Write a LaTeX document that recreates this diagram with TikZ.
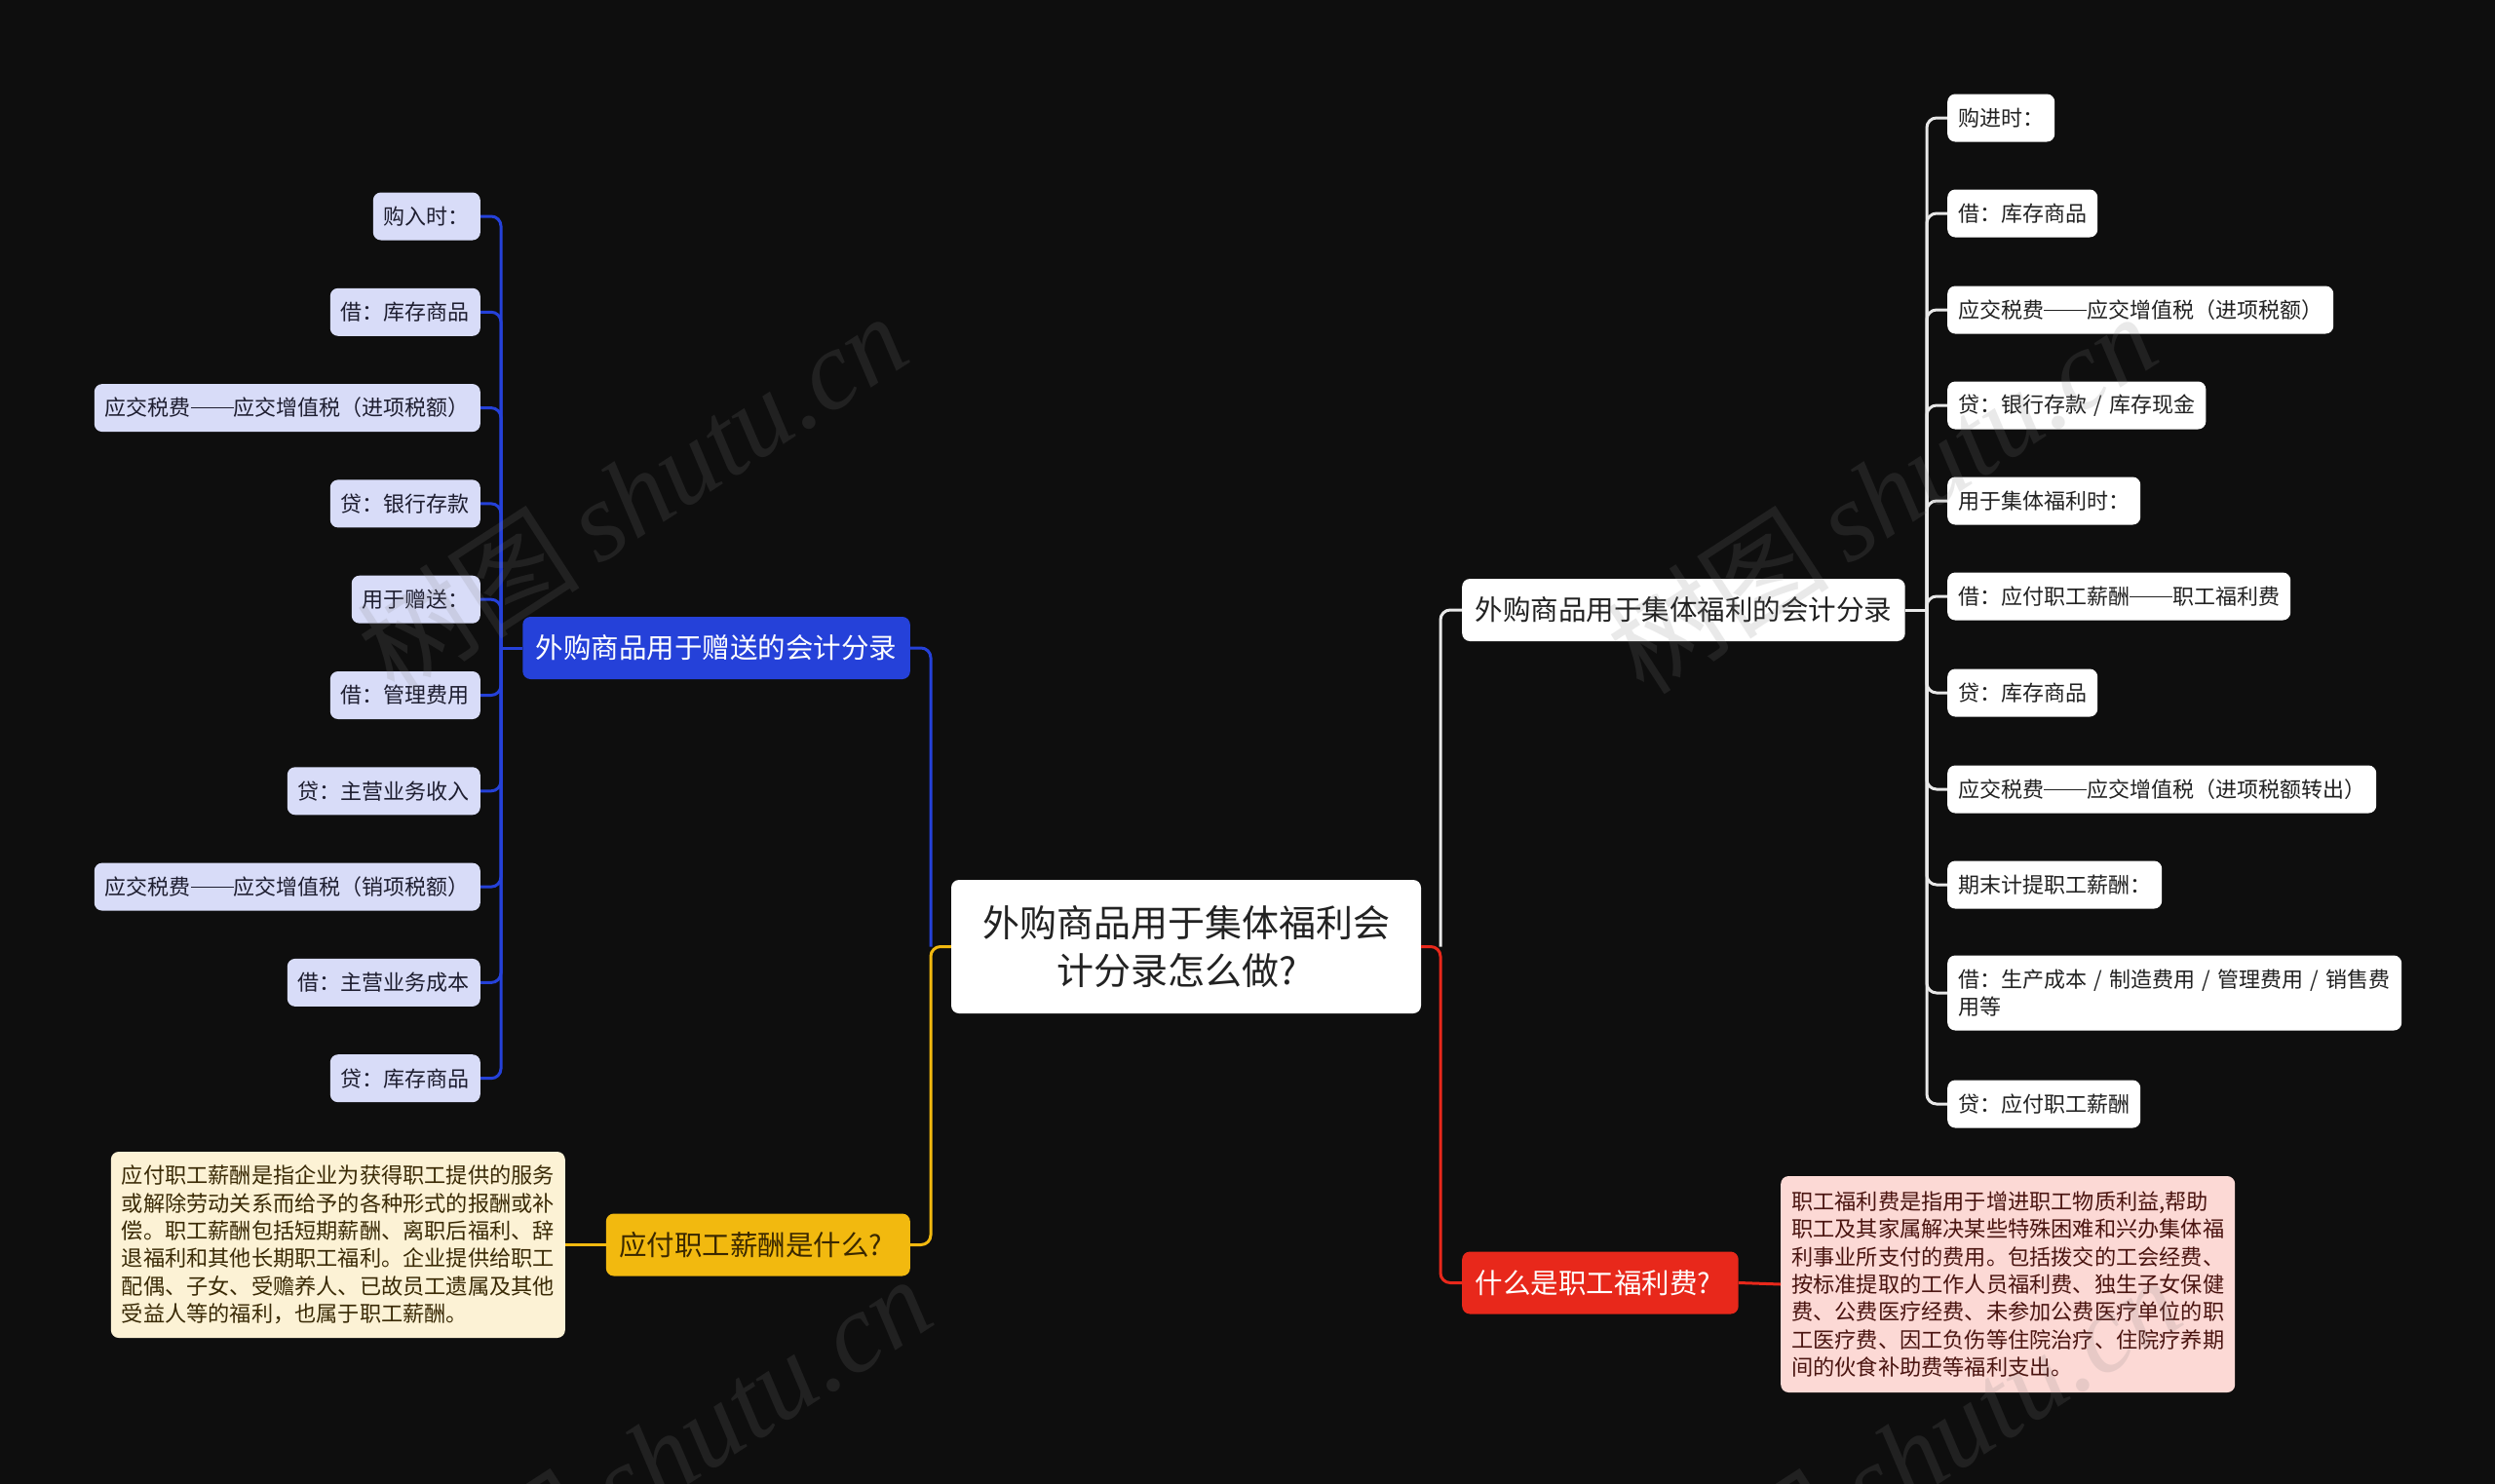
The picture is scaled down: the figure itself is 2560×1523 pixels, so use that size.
\documentclass[tikz,border=0pt]{standalone}
\usepackage{fontspec}
\setmainfont{Noto Sans CJK SC}
\newfontfamily\wmfont{Liberation Serif}
\definecolor{bg}{HTML}{0E0E0E}
\definecolor{blueM}{HTML}{2541D9}
\definecolor{lavB}{HTML}{D8DCF8}
\definecolor{txtB}{HTML}{1E1E30}
\definecolor{yelM}{HTML}{F2B90F}
\definecolor{yelTxt}{HTML}{3A2800}
\definecolor{cream}{HTML}{FCF2D5}
\definecolor{noteTxt}{HTML}{3A2A05}
\definecolor{redM}{HTML}{E8281B}
\definecolor{pinkB}{HTML}{FCD9D5}
\definecolor{pinkTxt}{HTML}{4A1410}
\definecolor{wlineC}{HTML}{E8E8E8}
\definecolor{txtW}{HTML}{222222}
\definecolor{wmC}{HTML}{808080}
\newcommand\emd{\rule[0.34em]{2em}{0.06em}}
\newcommand\slsh{\hspace{0.33em}/\hspace{0.33em}}
\newcommand\qm{\makebox[1em][l]{?}}
\begin{document}
\begin{tikzpicture}[x=1pt,y=-1pt,
  basebox/.style={rounded corners=8pt, inner ysep=0pt},
  leafB/.style={basebox, fill=lavB, text=txtB, font=\fontsize{22}{28}\selectfont, minimum height=49pt, inner xsep=11pt, anchor=east},
  leafW/.style={basebox, fill=white, text=txtW, font=\fontsize{22}{28}\selectfont, minimum height=49pt, inner xsep=11pt, anchor=west, align=left},
  topic/.style={basebox, font=\fontsize{28.5}{34}\selectfont, minimum height=64pt, inner xsep=13.5pt},
  bline/.style={draw=blueM, line width=3pt, rounded corners=10pt},
  yline/.style={draw=yelM, line width=3pt, rounded corners=10pt},
  rline/.style={draw=redM, line width=3pt, rounded corners=10pt},
  wline/.style={draw=wlineC, line width=3pt, rounded corners=10pt},
  wm/.style={text=wmC, text opacity=0.17, rotate=33, inner sep=0pt}
]
\useasboundingbox (0,0) rectangle (2560,1523);
\fill[bg] (0,0) rectangle (2560,1523);

% root
\node[basebox, fill=white, text=txtW, font=\fontsize{38}{49}\selectfont, align=center,
  minimum width=482pt, minimum height=137pt] (root) at (1217,971.5)
  {外购商品用于集体福利会\\计分录怎么做\qm};

% main topics
\node[topic, fill=blueM, text=white, anchor=east] (bl) at (934,665) {外购商品用于赠送的会计分录};
\node[topic, fill=yelM, text=yelTxt, anchor=east] (yn) at (934,1277.5) {应付职工薪酬是什么\qm};
\node[topic, fill=white, text=txtW, anchor=west] (wn) at (1500,626) {外购商品用于集体福利的会计分录};
\node[topic, fill=redM, text=white, anchor=west] (rn) at (1500,1316.5) {什么是职工福利费\qm};

% left leaves
\node[leafB] (l1) at (493,222) {购入时：};
\node[leafB] (l2) at (493,320.3) {借：库存商品};
\node[leafB] (l3) at (493,418.6) {应交税费\emd 应交增值税（进项税额）};
\node[leafB] (l4) at (493,516.9) {贷：银行存款};
\node[leafB] (l5) at (493,615.2) {用于赠送：};
\node[leafB] (l6) at (493,713.5) {借：管理费用};
\node[leafB] (l7) at (493,811.8) {贷：主营业务收入};
\node[leafB] (l8) at (493,910.1) {应交税费\emd 应交增值税（销项税额）};
\node[leafB] (l9) at (493,1008.4) {借：主营业务成本};
\node[leafB] (l10) at (493,1106.7) {贷：库存商品};

% right leaves
\node[leafW] (r1) at (1998,121) {购进时：};
\node[leafW] (r2) at (1998,219) {借：库存商品};
\node[leafW] (r3) at (1998,318) {应交税费\emd 应交增值税（进项税额）};
\node[leafW] (r4) at (1998,416) {贷：银行存款\slsh 库存现金};
\node[leafW] (r5) at (1998,514) {用于集体福利时：};
\node[leafW] (r6) at (1998,612) {借：应付职工薪酬\emd 职工福利费};
\node[leafW] (r7) at (1998,711) {贷：库存商品};
\node[leafW] (r8) at (1998,810) {应交税费\emd 应交增值税（进项税额转出）};
\node[leafW] (r9) at (1998,908) {期末计提职工薪酬：};
\node[leafW, minimum height=77pt, text width=444pt] (r10) at (1998,1019) {借：生产成本\slsh 制造费用\slsh 管理费用\slsh 销售费\\用等};
\node[leafW] (r11) at (1998,1133) {贷：应付职工薪酬};

% notes
\node[basebox, fill=cream, text=noteTxt, font=\fontsize{22.2}{28.4}\selectfont, align=left,
  text width=444pt, inner xsep=11pt, minimum height=191pt, anchor=east] (note) at (580,1277.5)
  {应付职工薪酬是指企业为获得职工提供的服务\\或解除劳动关系而给予的各种形式的报酬或补\\偿。职工薪酬包括短期薪酬、离职后福利、辞\\退福利和其他长期职工福利。企业提供给职工\\配偶、子女、受赡养人、已故员工遗属及其他\\受益人等的福利，也属于职工薪酬。};
\node[basebox, fill=pinkB, text=pinkTxt, font=\fontsize{22.2}{28.4}\selectfont, align=left,
  text width=444pt, inner xsep=11pt, minimum height=222pt, anchor=west] (pink) at (1827,1318)
  {职工福利费是指用于增进职工物质利益,帮助\\职工及其家属解决某些特殊困难和兴办集体福\\利事业所支付的费用。包括拨交的工会经费、\\按标准提取的工作人员福利费、独生子女保健\\费、公费医疗经费、未参加公费医疗单位的职\\工医疗费、因工负伤等住院治疗、住院疗养期\\间的伙食补助费等福利支出。};

% junction coordinates
\coordinate (lj) at (955,971.5);
\coordinate (rj) at (1478,971.5);
\coordinate (bj) at (514,665);
\coordinate (wj) at (1977,626);

% root connectors
\draw[bline] (lj) |- (bl.east);
\draw[yline] (root.west) -- (lj) |- (yn.east);
\draw[wline] (rj) |- (wn.west);
\draw[rline] (root.east) -- (rj) |- (rn.west);

% blue leaves
\draw[bline] (bl.west) -- (bj);
\foreach \i in {1,...,10} { \draw[bline] (bj) |- (l\i.east); }

% white leaves
\draw[wline] (wn.east) -- (wj);
\foreach \i in {1,...,11} { \draw[wline] (wj) |- (r\i.west); }

% notes connectors
\draw[yline] (yn.west) -- (note.east);
\draw[rline] (rn.east) -- (pink.west);

% watermarks
\begin{scope}
\clip (0,0) rectangle (2560,1523);
\node[wm] (wm1) at (648,506) {\fontsize{115}{115}\selectfont 树图\,{\wmfont\itshape shutu.cn}};
\node[wm] (wm2) at (1930,506) {\fontsize{115}{115}\selectfont 树图\,{\wmfont\itshape shutu.cn}};
\node[wm] (wm3) at (673,1494) {\fontsize{115}{115}\selectfont 树图\,{\wmfont\itshape shutu.cn}};
\node[wm] (wm4) at (1955,1494) {\fontsize{115}{115}\selectfont 树图\,{\wmfont\itshape shutu.cn}};
\end{scope}
\end{tikzpicture}
\end{document}
